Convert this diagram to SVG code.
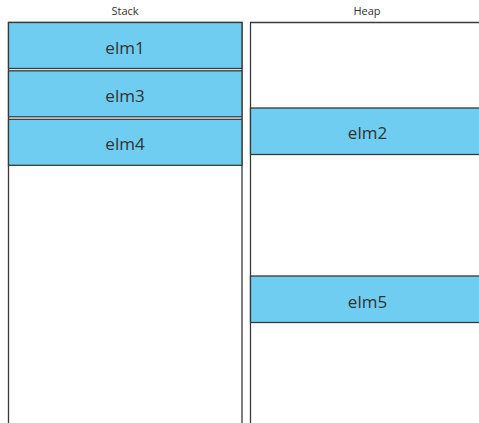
<svg xmlns="http://www.w3.org/2000/svg" width="479" height="423" viewBox="0 0 479 423">
<style>
.title{font-family:"Open Sans","Liberation Sans",sans-serif;font-size:11px;fill:#333;text-anchor:middle}
.col{fill:#fff;stroke:#3a3a3a;stroke-width:1.3}
.cell{fill:#6ecdf0;stroke:#3a3a3a;stroke-width:1.3}
.lbl{font-family:"Open Sans","Liberation Sans",sans-serif;font-size:17px;fill:#333;text-anchor:middle}
</style>
<rect width="479" height="423" fill="#fff"/>
<g id="stack">
<text class="title" x="125" y="15">Stack</text>
<path class="col" d="M8.5,425 V22.5 H242 V425"/>
</g>
<g id="heap">
<text class="title" x="367" y="15">Heap</text>
<path class="col" d="M250.5,425 V22.5 H490"/>
</g>
<g id="elm1">
<rect class="cell" x="8.5" y="22.5" width="233.5" height="46"/>
<text class="lbl" x="125" y="54">elm1</text>
</g>
<g id="elm3">
<rect class="cell" x="8.5" y="70.8" width="233.5" height="46"/>
<text class="lbl" x="125" y="101.5">elm3</text>
</g>
<g id="elm4">
<rect class="cell" x="8.5" y="119.3" width="233.5" height="46"/>
<text class="lbl" x="125" y="150">elm4</text>
</g>
<g id="elm2">
<rect class="cell" x="250.5" y="108" width="240" height="46.5"/>
<text class="lbl" x="367.5" y="139">elm2</text>
</g>
<g id="elm5">
<rect class="cell" x="250.5" y="276" width="240" height="46.5"/>
<text class="lbl" x="367.5" y="307.5">elm5</text>
</g>
<g id="connectors"></g>
</svg>
